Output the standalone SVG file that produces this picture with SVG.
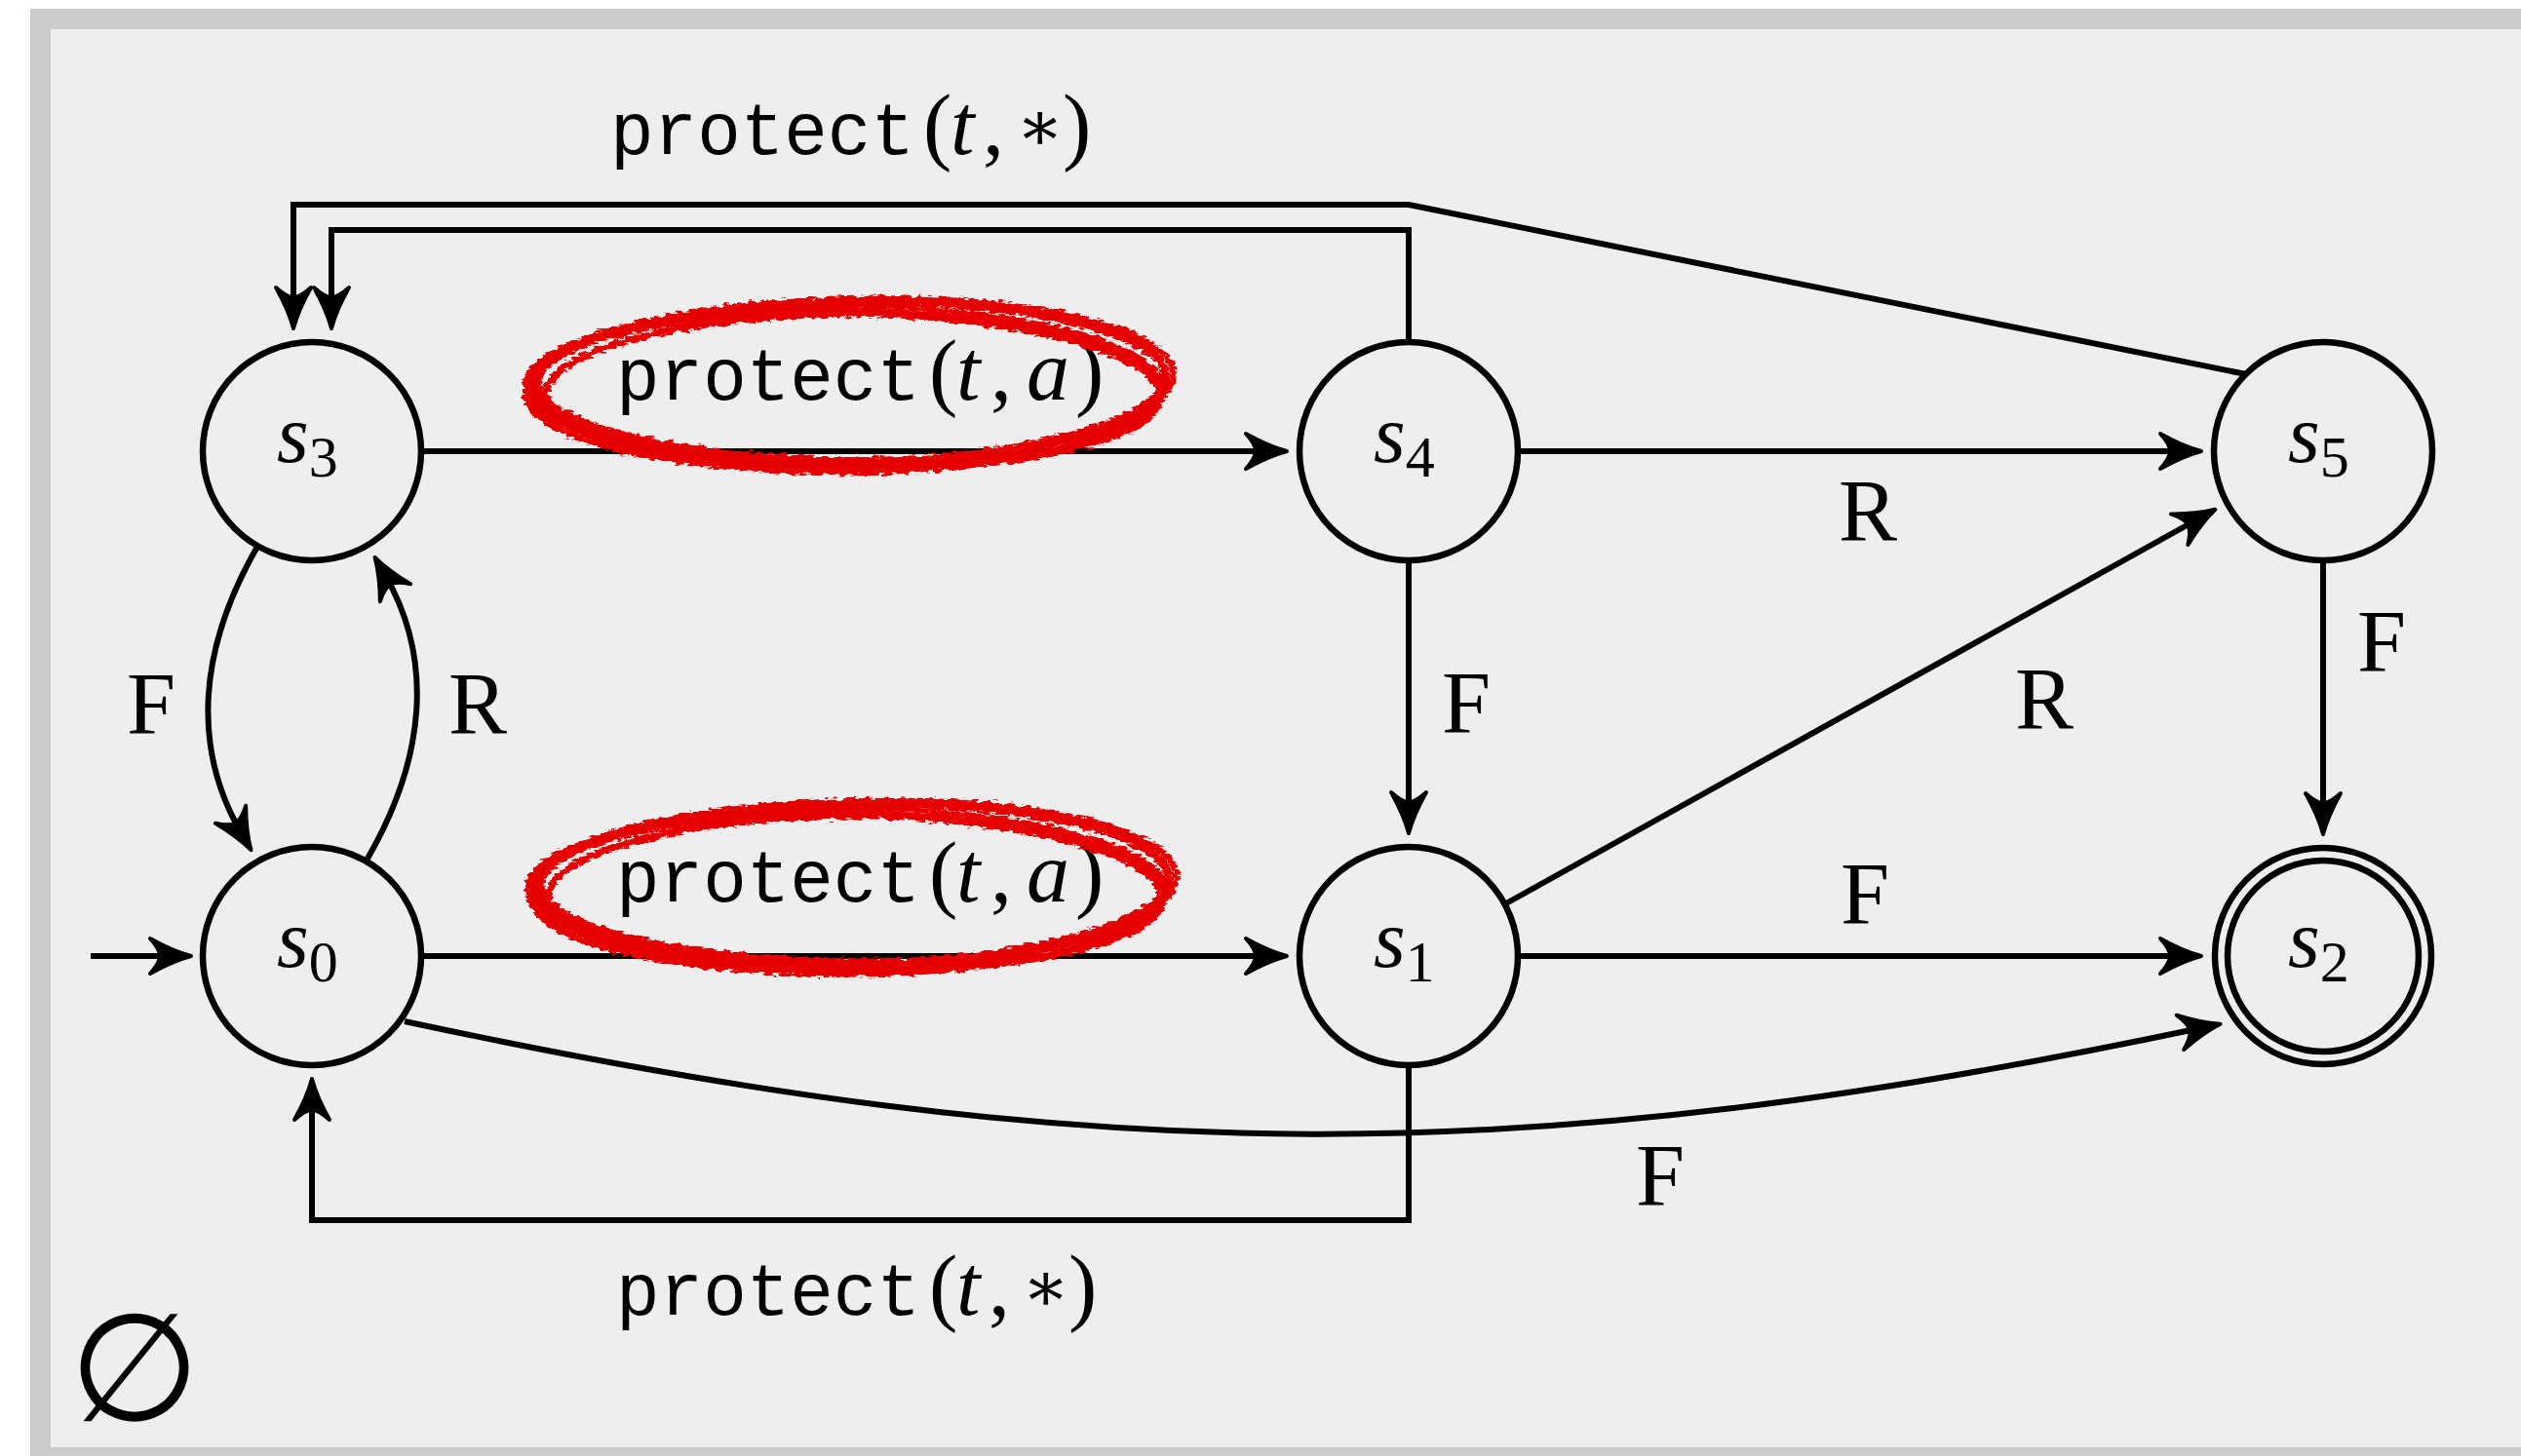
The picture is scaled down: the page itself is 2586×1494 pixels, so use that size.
<svg xmlns="http://www.w3.org/2000/svg" width="2586" height="1494" viewBox="0 0 2586 1494">
<style>
.node circle{fill:#eeeeee;stroke:#000;stroke-width:6.5}
.edge{fill:none;stroke:#000;stroke-width:6;stroke-linejoin:miter;marker-end:url(#arr)}
.lbl{font-family:"Liberation Serif",serif;font-size:90px;text-anchor:middle;fill:#000}
.sv{font-family:"Liberation Serif",serif;font-size:84px;fill:#000}
.sv .i{font-style:italic}
.sv .sub{font-size:60px}
.act{fill:#000}
.tt{font-family:"Liberation Mono",monospace;font-size:76px}
.mr{font-family:"Liberation Serif",serif;font-size:88px}
.mi{font-family:"Liberation Serif",serif;font-size:88px;font-style:italic}
.op{font-family:"DejaVu Serif",serif;font-size:72px}
.red ellipse{fill:none;stroke:#e60000}
</style>
<defs>
<marker id="arr" markerUnits="userSpaceOnUse" orient="auto" refX="0" refY="0" markerWidth="90" markerHeight="90" viewBox="-45 -45 90 90" overflow="visible">
<path d="M21,0 Q2,-5 -21,-18 Q-11,-7 -11,0 Q-11,7 -21,18 Q2,5 21,0 Z" fill="#000" stroke="#000" stroke-width="4" stroke-linejoin="round"/>
</marker>
<filter id="rough" x="-5%" y="-25%" width="110%" height="150%">
<feTurbulence type="fractalNoise" baseFrequency="0.12 0.3" numOctaves="2" seed="7" result="n"/>
<feDisplacementMap in="SourceGraphic" in2="n" scale="9" xChannelSelector="R" yChannelSelector="G"/>
</filter>
</defs>
<rect x="0" y="0" width="2586" height="1494" fill="#ffffff"/>
<rect id="frame" x="41.5" y="19.5" width="2600" height="1476" fill="#eeeeee" stroke="#cbcbcb" stroke-width="21"/>

<g id="connectors">
<path class="edge" d="M93,981 H175"/>
<path class="edge" d="M435,463 H1299"/>
<path class="edge" d="M1557,463 H2237"/>
<path class="edge" d="M435,981 H1299"/>
<path class="edge" d="M1557,981 H2237"/>
<path class="edge" d="M1445,575 V834"/>
<path class="edge" d="M2383,575 V835"/>
<path class="edge" d="M1545,927 L2254,533"/>
<path class="edge" d="M1445,351 V236 H340 V316"/>
<path class="edge" d="M2304,384 L1445,210 H301 V316"/>
<path class="edge" d="M1445,1093 V1252 H320 V1128"/>
<path class="edge" d="M264,561 C203.5,666 196.5,766 247,854"/>
<path class="edge" d="M377,881 C437.5,776 444.5,676 395,590"/>
<path class="edge" d="M415,1048 C1129,1201 1565,1201 2257,1055"/>
</g>

<g id="edge-labels">
<text class="lbl" x="1916" y="555">R</text>
<text class="lbl" x="1913" y="948">F</text>
<text class="lbl" x="1504" y="752">F</text>
<text class="lbl" x="2443" y="689">F</text>
<text class="lbl" x="2097" y="748">R</text>
<text class="lbl" x="155" y="753">F</text>
<text class="lbl" x="490" y="753">R</text>
<text class="lbl" x="1703" y="1237">F</text>
<text class="act" y="158"><tspan class="tt" x="626" textLength="312" lengthAdjust="spacingAndGlyphs">protect</tspan><tspan class="mr" x="947">(</tspan><tspan class="mi" x="975">t</tspan><tspan class="mr" x="1008">,</tspan><tspan class="op" x="1067" dy="-4" text-anchor="middle">∗</tspan><tspan class="mr" x="1090" dy="4">)</tspan></text>
<text class="act" y="1349"><tspan class="tt" x="632" textLength="312" lengthAdjust="spacingAndGlyphs">protect</tspan><tspan class="mr" x="953">(</tspan><tspan class="mi" x="981">t</tspan><tspan class="mr" x="1014">,</tspan><tspan class="op" x="1073" dy="-4" text-anchor="middle">∗</tspan><tspan class="mr" x="1096" dy="4">)</tspan></text>
<text class="act" y="410"><tspan class="tt" x="632" textLength="312" lengthAdjust="spacingAndGlyphs">protect</tspan><tspan class="mr" x="953">(</tspan><tspan class="mi" x="981">t</tspan><tspan class="mr" x="1016">,</tspan><tspan class="mi" x="1053">a</tspan><tspan class="mr" x="1103">)</tspan></text>
<text class="act" y="925"><tspan class="tt" x="632" textLength="312" lengthAdjust="spacingAndGlyphs">protect</tspan><tspan class="mr" x="953">(</tspan><tspan class="mi" x="981">t</tspan><tspan class="mr" x="1016">,</tspan><tspan class="mi" x="1053">a</tspan><tspan class="mr" x="1103">)</tspan></text>
</g>

<g id="node-s3" class="node"><circle cx="320" cy="463" r="112"/><text class="sv" x="284" y="474"><tspan class="i">s</tspan><tspan class="sub" dy="15">3</tspan></text></g>
<g id="node-s0" class="node"><circle cx="320" cy="981" r="112"/><text class="sv" x="284" y="992"><tspan class="i">s</tspan><tspan class="sub" dy="15">0</tspan></text></g>
<g id="node-s4" class="node"><circle cx="1445" cy="463" r="112"/><text class="sv" x="1409" y="474"><tspan class="i">s</tspan><tspan class="sub" dy="15">4</tspan></text></g>
<g id="node-s1" class="node"><circle cx="1445" cy="981" r="112"/><text class="sv" x="1409" y="992"><tspan class="i">s</tspan><tspan class="sub" dy="15">1</tspan></text></g>
<g id="node-s5" class="node"><circle cx="2383" cy="463" r="112"/><text class="sv" x="2347" y="474"><tspan class="i">s</tspan><tspan class="sub" dy="15">5</tspan></text></g>
<g id="node-s2" class="node"><circle cx="2383" cy="981" r="111"/><circle cx="2383" cy="981" r="98"/><text class="sv" x="2347" y="992"><tspan class="i">s</tspan><tspan class="sub" dy="15">2</tspan></text></g>

<g id="highlights" class="red" filter="url(#rough)">
<ellipse cx="870" cy="392" rx="326" ry="83" stroke-width="9" transform="rotate(-1 870 392)"/>
<ellipse cx="870" cy="396" rx="318" ry="76" stroke-width="7" transform="rotate(0.6 870 396)"/>
<ellipse cx="872" cy="394" rx="332" ry="87" stroke-width="6" transform="rotate(-1.8 870 394)"/>
<ellipse cx="868" cy="400" rx="322" ry="80" stroke-width="8" transform="rotate(1.2 870 400)"/>
<ellipse cx="874" cy="403" rx="314" ry="81" stroke-width="7" transform="rotate(-0.4 870 403)"/>
<ellipse cx="866" cy="398" rx="328" ry="84" stroke-width="5" transform="rotate(0.3 870 398)"/>
<ellipse cx="873" cy="907" rx="326" ry="83" stroke-width="9" transform="rotate(-1 873 907)"/>
<ellipse cx="873" cy="911" rx="318" ry="76" stroke-width="7" transform="rotate(0.6 873 911)"/>
<ellipse cx="875" cy="909" rx="332" ry="87" stroke-width="6" transform="rotate(-1.8 873 909)"/>
<ellipse cx="871" cy="915" rx="322" ry="80" stroke-width="8" transform="rotate(1.2 873 915)"/>
<ellipse cx="877" cy="918" rx="314" ry="81" stroke-width="7" transform="rotate(-0.4 873 918)"/>
<ellipse cx="869" cy="913" rx="328" ry="84" stroke-width="5" transform="rotate(0.3 873 913)"/>
</g>

<text id="emptyset" x="138" y="1457" font-family="DejaVu Sans, sans-serif" font-size="154" text-anchor="middle" fill="#000">∅</text>
</svg>
